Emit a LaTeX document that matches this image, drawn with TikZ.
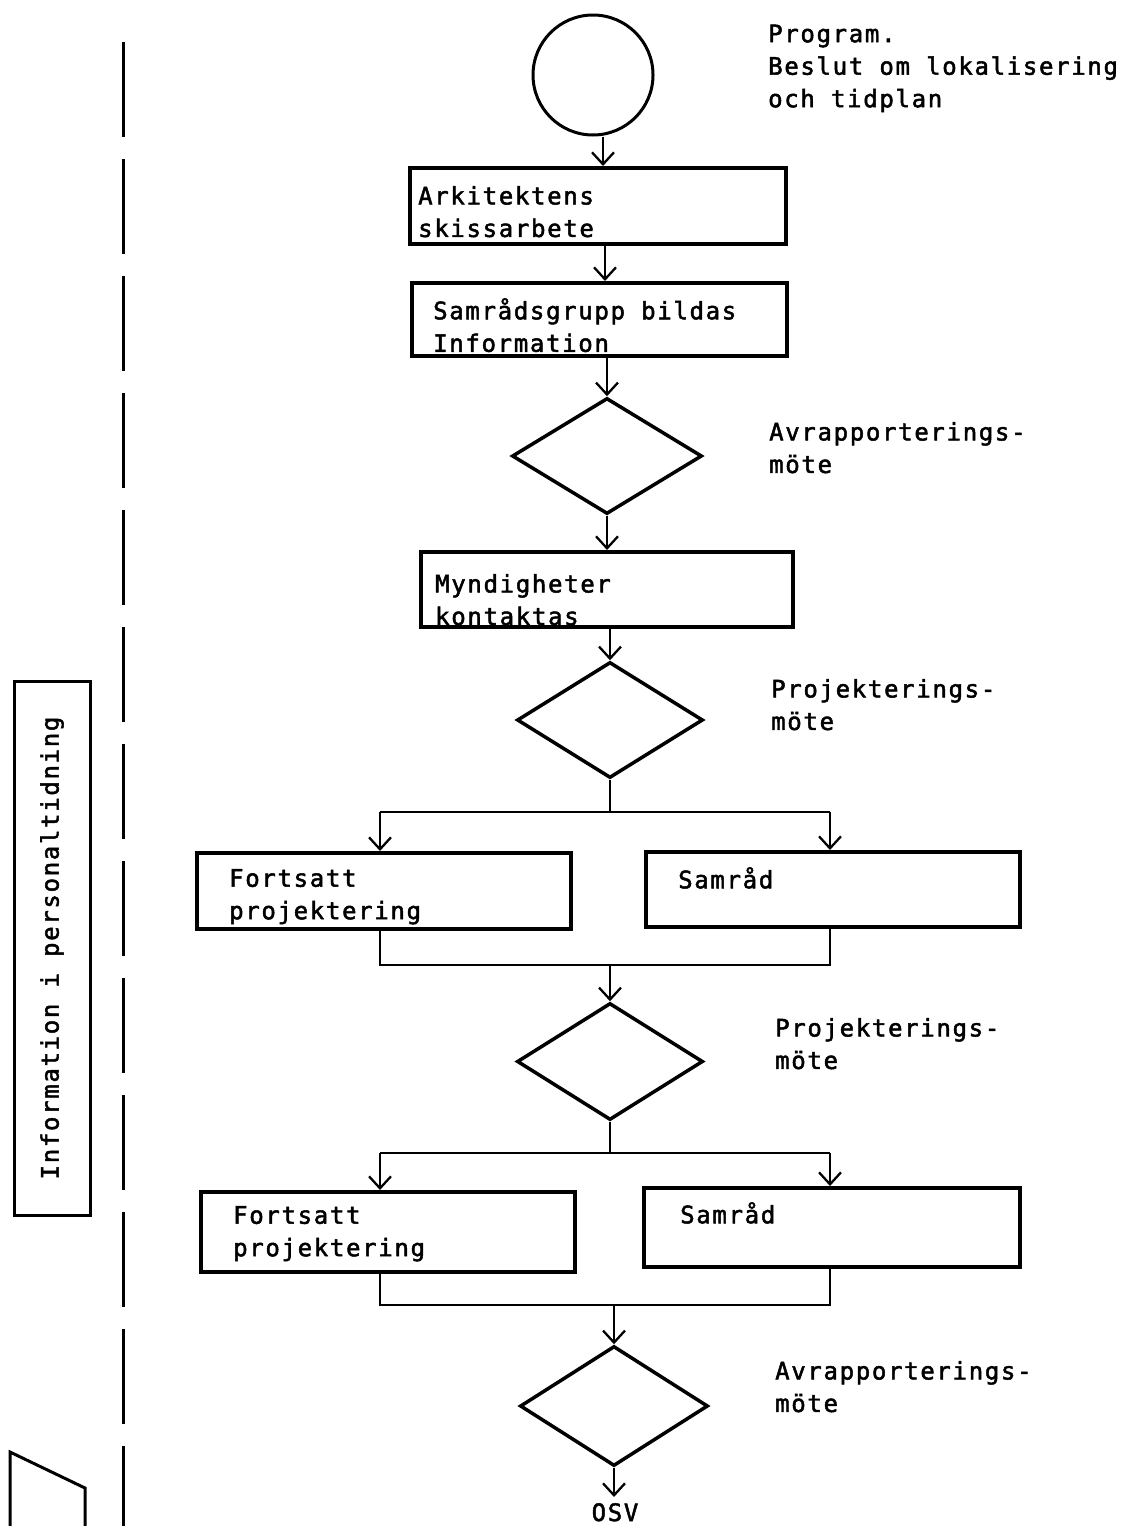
\documentclass[tikz,border=0pt]{standalone}
\usepackage{fontspec}
\setmainfont{DejaVu Sans Mono}[LetterSpace=7,FakeBold=2]
\usetikzlibrary{arrows.meta,shapes.geometric}
\begin{document}
\begin{tikzpicture}[x=1pt,y=-1pt,
  every node/.style={font=\fontsize{24}{32.5}\selectfont},
  box/.style={draw, line width=4pt, rectangle, inner sep=0pt},
  dia/.style={draw, line width=3.5pt, diamond, inner sep=0pt},
  txt/.style={anchor=north west, inner sep=0pt, align=left},
  conn/.style={line width=2.3pt},
  arr/.style={line width=2.3pt, -{Straight Barb[length=12pt,width=22pt]}},
  dashln/.style={line width=3pt}
]
\useasboundingbox (0,0) rectangle (1120,1526);

% left dashed line
\coordinate (dtop) at (123,42);
\coordinate (dbot) at (123,1526);
\draw[dashln, dash pattern=on 95pt off 22pt] (dtop) -- (dbot);

% left rotated box
\node[draw, line width=3pt, rotate=90, minimum width=534pt, minimum height=76pt, inner sep=0pt] (info) at (52,948) {Information i personaltidning};

% bottom-left shape (cut off)
\draw[line width=3pt, line join=miter] (10,1526) -- (10,1452) -- (85,1488) -- (85,1526);

% start circle
\node[draw, circle, line width=3pt, minimum size=120pt, inner sep=0pt] (circ) at (593,75) {};
\node[txt] (tprog) at (768,24.5) {Program.\\Beslut om lokalisering\\och tidplan};

% boxes
\node[box, minimum width=376pt, minimum height=76pt] (b1) at (598,206) {};
\node[txt] (t1) at (418,186) {Arkitektens\\skissarbete};
\node[box, minimum width=375pt, minimum height=73pt] (b2) at (599.5,319.5) {};
\node[txt] (t2) at (433,298) {Samrådsgrupp bildas\\Information};

\node[dia, minimum width=190pt, minimum height=116pt] (d1) at (607,456) {};
\node[txt] (l1) at (769,422) {Avrapporterings-\\möte};

\node[box, minimum width=372pt, minimum height=75pt] (b3) at (607,589.5) {};
\node[txt] (t3) at (435,574) {Myndigheter\\kontaktas};

\node[dia, minimum width=186pt, minimum height=116pt] (d2) at (610,720) {};
\node[txt] (l2) at (771,679) {Projekterings-\\möte};

\node[box, minimum width=374pt, minimum height=76pt] (b4) at (384,891) {};
\node[txt] (t4) at (229,869) {Fortsatt\\projektering};
\node[box, minimum width=374pt, minimum height=75pt] (b5) at (833,889.5) {};
\node[txt] (t5) at (678,867) {Samråd};

\node[dia, minimum width=186pt, minimum height=117pt] (d3) at (610,1061.5) {};
\node[txt] (l3) at (775,1018) {Projekterings-\\möte};

\node[box, minimum width=374pt, minimum height=80pt] (b6) at (388,1232) {};
\node[txt] (t6) at (233,1206) {Fortsatt\\projektering};
\node[box, minimum width=376pt, minimum height=79pt] (b7) at (832,1227.5) {};
\node[txt] (t7) at (680,1202) {Samråd};

\node[dia, minimum width=188pt, minimum height=120pt] (d4) at (614,1406) {};
\node[txt] (l4) at (775,1361) {Avrapporterings-\\möte};

\node[anchor=base, inner sep=0pt] (osv) at (615,1521) {OSV};

% branch coordinates
\coordinate (s1L) at (380,812);
\coordinate (s1R) at (830,812);
\coordinate (m1L) at (380,965);
\coordinate (m1R) at (830,965);
\coordinate (s2L) at (380,1153);
\coordinate (s2R) at (830,1153);
\coordinate (m2L) at (380,1305);
\coordinate (m2R) at (830,1305);
\coordinate (ax0) at (603,0);
\coordinate (ax1) at (605,0);

% connectors
\draw[arr] (circ.south -| ax0) -- (b1.north -| ax0);
\draw[arr] (b1.south -| ax1) -- (b2.north -| ax1);
\draw[arr] (b2.south -| d1.north) -- (d1.north);
\draw[arr] (d1.south) -- (d1.south |- b3.north);
\draw[arr] (b3.south -| d2.north) -- (d2.north);

\draw[conn] (d2.south) -- (d2.south |- s1L);
\draw[conn] (s1L) -- (s1R);
\draw[arr] (s1L) -- (s1L |- b4.north);
\draw[arr] (s1R) -- (s1R |- b5.north);
\draw[conn] (s1L |- b4.south) -- (m1L) -- (m1R) -- (s1R |- b5.south);
\draw[arr] (m1L -| d3.north) -- (d3.north);

\draw[conn] (d3.south) -- (d3.south |- s2L);
\draw[conn] (s2L) -- (s2R);
\draw[arr] (s2L) -- (s2L |- b6.north);
\draw[arr] (s2R) -- (s2R |- b7.north);
\draw[conn] (s2L |- b6.south) -- (m2L) -- (m2R) -- (s2R |- b7.south);
\draw[arr] (m2L -| d4.north) -- (d4.north);

\draw[arr, shorten >=6pt] (d4.south) -- (d4.south |- osv.north);
\end{tikzpicture}
\end{document}
